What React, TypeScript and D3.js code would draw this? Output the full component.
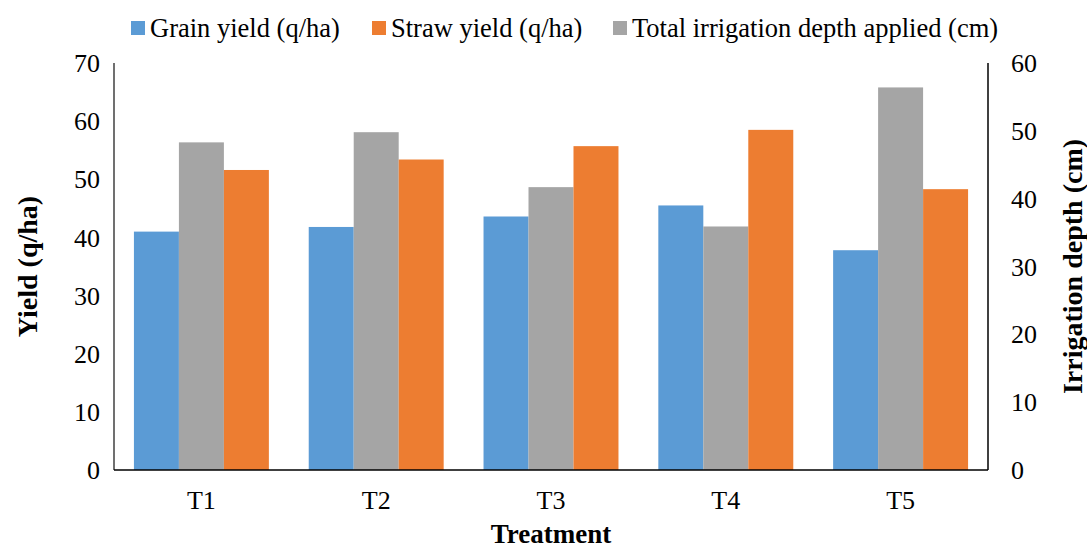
import React from "react";
import * as d3 from "d3";

const treatments = ["T1", "T2", "T3", "T4", "T5"];
const grainYield = [41.0, 41.8, 43.6, 45.5, 37.8];
const strawYield = [51.6, 53.4, 55.7, 58.5, 48.3];
const irrigationDepth = [48.3, 49.8, 41.7, 35.9, 56.4];

const yieldTicks = [0, 10, 20, 30, 40, 50, 60, 70];
const depthTicks = [0, 10, 20, 30, 40, 50, 60];

const seriesKeys = ["grain", "irrigation", "straw"];
const legendItems = [
  { key: "grain", label: "Grain yield (q/ha)", color: "#5B9BD5", x: 131 },
  { key: "straw", label: "Straw yield (q/ha)", color: "#ED7D31", x: 372 },
  { key: "irrigation", label: "Total irrigation depth applied (cm)", color: "#A5A5A5", x: 613 },
];

const W = 1087;
const H = 550;
const left = 114;
const right = 988;
const top = 63;
const bottom = 470;
const FONT = "'Liberation Serif', 'Times New Roman', serif";
const LABEL_SIZE = 26;
const LEGEND_SIZE = 26.5;
const TITLE_SIZE = 28;

export default function App() {
  const x = d3
    .scaleBand<string>()
    .domain(treatments)
    .range([left, right])
    .paddingInner(0.228)
    .paddingOuter(0.114);
  const xs = d3.scaleBand<string>().domain(seriesKeys).range([0, x.bandwidth()]);
  const yL = d3.scaleLinear().domain([0, 70]).range([bottom, top]);
  const yR = d3.scaleLinear().domain([0, 60]).range([bottom, top]);

  const colors: Record<string, string> = {
    grain: "#5B9BD5",
    straw: "#ED7D31",
    irrigation: "#A5A5A5",
  };

  const bars = treatments.flatMap((t, i) => [
    { t, key: "grain", y: yL(grainYield[i]) },
    { t, key: "irrigation", y: yR(irrigationDepth[i]) },
    { t, key: "straw", y: yL(strawYield[i]) },
  ]);

  return (
    <svg
      width={W}
      height={H}
      style={{ position: "absolute", left: 0, top: 0, background: "#fff" }}
      fontFamily={FONT}
    >
      <rect x={0} y={0} width={W} height={H} fill="#fff" />
      {bars.map((b, i) => (
        <rect
          key={i}
          x={(x(b.t) as number) + (xs(b.key) as number)}
          y={b.y}
          width={xs.bandwidth()}
          height={bottom - b.y}
          fill={colors[b.key]}
        />
      ))}

      {/* axes */}
      <line x1={left} x2={left} y1={top} y2={bottom} stroke="#404040" strokeWidth={1.5} />
      <line x1={right} x2={right} y1={top} y2={bottom} stroke="#000" strokeWidth={1.5} />
      <line x1={left} x2={right} y1={bottom} y2={bottom} stroke="#000" strokeWidth={1.5} />

      {yieldTicks.map((v) => (
        <text key={v} x={100} y={yL(v)} dy="0.35em" textAnchor="end" fontSize={LABEL_SIZE} fill="#000">
          {v}
        </text>
      ))}
      {depthTicks.map((v) => (
        <text key={v} x={1011} y={yR(v)} dy="0.35em" textAnchor="start" fontSize={LABEL_SIZE} fill="#000">
          {v}
        </text>
      ))}
      {treatments.map((t) => (
        <text
          key={t}
          x={(x(t) as number) + x.bandwidth() / 2}
          y={509}
          textAnchor="middle"
          fontSize={LABEL_SIZE}
          fill="#000"
        >
          {t}
        </text>
      ))}

      <text x={(left + right) / 2} y={543} textAnchor="middle" fontSize={27} fontWeight="bold">
        Treatment
      </text>
      <text
        transform={`translate(27,${(top + bottom) / 2}) rotate(-90)`}
        textAnchor="middle"
        dy="0.35em"
        fontSize={TITLE_SIZE}
        fontWeight="bold"
      >
        Yield (q/ha)
      </text>
      <text
        transform={`translate(1072,${(top + bottom) / 2}) rotate(-90)`}
        textAnchor="middle"
        dy="0.35em"
        fontSize={TITLE_SIZE}
        fontWeight="bold"
      >
        Irrigation depth (cm)
      </text>

      {legendItems.map((l) => (
        <g key={l.key}>
          <rect x={l.x} y={21} width={14} height={14} fill={l.color} />
          <text x={l.x + 19} y={28} dy="0.35em" fontSize={LEGEND_SIZE} fill="#000">
            {l.label}
          </text>
        </g>
      ))}
    </svg>
  );
}
